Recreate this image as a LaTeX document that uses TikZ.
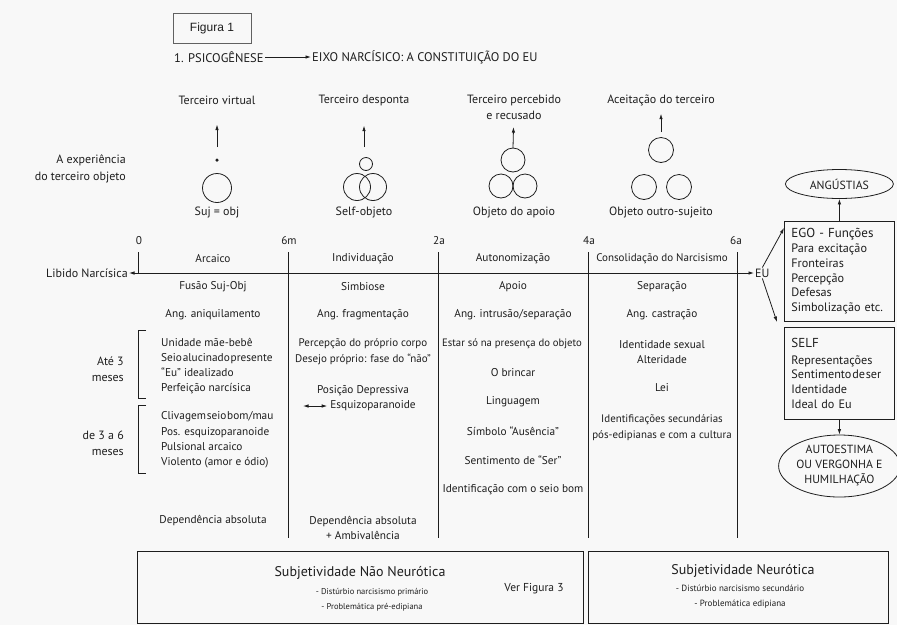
\documentclass[tikz,border=0pt]{standalone}
\usepackage{fontspec}
\setmainfont{PT Sans}
\newfontfamily\figfont{Liberation Sans}
\usepackage{tikz}
\usetikzlibrary{arrows.meta,positioning,shapes.geometric}
\definecolor{inkdark}{HTML}{1E1E1E}
\definecolor{pagegray}{HTML}{F8F8F8}
\tikzset{
  lbl/.style={
    font=\fontsize{11.3}{15}\selectfont,
    text=inkdark,
    inner sep=1pt,
    align=center
  },
  toplbl/.style={
    lbl,
    font=\fontsize{12}{16}\selectfont
  },
  smalllbl/.style={
    font=\fontsize{8.5}{15}\selectfont,
    text=inkdark,
    inner sep=1pt
  },
  bigtitle/.style={
    font=\fontsize{14}{16}\selectfont,
    text=inkdark,
    inner sep=1pt
  },
  ring/.style={
    circle,
    draw=inkdark,
    line width=0.8pt,
    inner sep=0pt
  },
  rule/.style={
    draw=inkdark,
    line width=0.8pt
  },
  arrow/.style={
    -{Latex[length=5.5pt,width=3.5pt]},
    draw=inkdark,
    line width=0.8pt
  },
  twoway/.style={
    {Latex[length=5.5pt,width=3.5pt]}-{Latex[length=5.5pt,width=3.5pt]},
    draw=inkdark,
    line width=0.8pt
  },
  sidebox/.style={
    rectangle,
    draw=inkdark,
    line width=0.8pt,
    text width=96pt,
    inner sep=7pt,
    align=left,
    anchor=north west,
    text=inkdark,
    font=\fontsize{12.2}{14.8}\selectfont
  },
  bubble/.style={
    ellipse,
    draw=inkdark,
    line width=0.8pt,
    inner sep=0pt,
    align=center,
    text=inkdark,
    font=\fontsize{11.8}{15}\selectfont
  },
  footbox/.style={
    rectangle,
    draw=inkdark,
    line width=0.8pt,
    minimum height=72pt
  }
}

\begin{document}
\begin{tikzpicture}[x=1pt,y=-1pt]
\fill[pagegray] (0,0) rectangle (897,625);
\useasboundingbox (0,0) rectangle (897,625);

% titulo
\node[draw=inkdark!70, line width=0.6pt, minimum width=78pt, minimum height=30pt,
  font=\figfont\fontsize{12}{14}\selectfont, text=inkdark] (fig) at (212,28) {Figura 1};
\node[lbl, font=\fontsize{12.5}{14}\selectfont, anchor=west] (psico) at (173,57) {1. PSICOGÊNESE};
\node[lbl, font=\fontsize{12.5}{14}\selectfont, anchor=west] (eixo) at (311,57) {EIXO NARCÍSICO: A CONSTITUIÇÃO DO EU};
\draw[arrow] (psico) -- (eixo);

% o terceiro
\node[toplbl] (virtual) at (217,100) {Terceiro virtual};
\node[toplbl] (desponta) at (364,100) {Terceiro desponta};
\node[toplbl] (percebido) at (514,107.5) {Terceiro percebido\\e recusado};
\node[toplbl] (aceita) at (661,100) {Aceitação do terceiro};
\node[toplbl, anchor=east, align=right, font=\fontsize{12}{17}\selectfont] (experiencia) at (127,169) {A experiência\\do terceiro objeto};

\node[circle, fill=inkdark, minimum size=3.5pt, inner sep=0pt] (dot) at (217,160) {};
\node[ring, minimum size=29pt] (suj) at (217,188) {};
\node[ring, minimum size=13pt] (selfTop) at (366,164) {};
\node[ring, minimum size=27pt] (selfL) at (357,187) {};
\node[ring, minimum size=27pt] (selfR) at (373,187) {};
\node[ring, minimum size=24pt] (apoioTop) at (513,160) {};
\node[ring, minimum size=24pt] (apoioL) at (501,186) {};
\node[ring, minimum size=24pt] (apoioR) at (525,186) {};
\node[ring, minimum size=25pt] (outroTop) at (661,150) {};
\node[ring, minimum size=25pt] (outroL) at (644,187) {};
\node[ring, minimum size=25pt] (outroR) at (679,187) {};

\coordinate (virtBase) at (217,147);
\coordinate (despBase) at (364,147);
\coordinate (percBase) at (513,148);
\coordinate (aceiBase) at (661,132);
\draw[arrow, shorten >=19pt] (virtBase) -- (virtual);
\draw[arrow, shorten >=19pt] (despBase) -- (desponta);
\draw[arrow, shorten >=6pt] (percBase) -- (percebido);
\draw[arrow, shorten >=7pt] (aceiBase) -- (aceita);

\node[toplbl] (sujLbl) at (217,212) {Suj = obj};
\node[toplbl] (selfLbl) at (364,212) {Self-objeto};
\node[toplbl] (apoioLbl) at (514,212) {Objeto do apoio};
\node[toplbl] (outroLbl) at (661,212) {Objeto outro-sujeito};

% eixo do tempo
\node[toplbl, anchor=east] (libido) at (129,273) {Libido Narcísica};
\node[toplbl, anchor=west] (eu) at (754,273) {EU};
\draw[twoway] (libido) -- (eu);
\draw[rule] (138,252) -- (138,273);
\foreach \x in {288,438,588,737}
  \draw[rule] (\x,252) -- (\x,538);
\foreach \x/\t in {139/0,289/6m,439/2a,589/4a,736/6a}
  \node[lbl] (t\t) at (\x,241) {\t};

\node[lbl] (arcaico) at (213,259) {Arcaico};
\node[lbl] (individ) at (363,259) {Individuação};
\node[lbl] (autonom) at (513,259) {Autonomização};
\node[lbl, font=\fontsize{11}{15}\selectfont] (consol) at (662,259) {Consolidação do Narcisismo};
\node[lbl] (fusao) at (213,287) {Fusão Suj-Obj};
\node[lbl] (simbiose) at (363,287) {Simbiose};
\node[lbl] (apoio) at (513,287) {Apoio};
\node[lbl] (separa) at (662,287) {Separação};
\node[lbl] (angAniq) at (213,315) {Ang. aniquilamento};
\node[lbl] (angFrag) at (363,315) {Ang. fragmentação};
\node[lbl] (angIntr) at (513,315) {Ang. intrusão/separação};
\node[lbl] (angCast) at (662,315) {Ang. castração};

% arcaico
\draw[rule] (146,330) -- (138,330) -- (138,398) -- (146,398);
\draw[rule] (146,405) -- (138,405) -- (138,473) -- (146,473);
\node[toplbl, anchor=east, align=right] (ate3) at (125,369) {Até 3\\meses};
\node[toplbl, anchor=east, align=right] (de3a6) at (125,443) {de 3 a 6\\meses};
\node[lbl, anchor=west, align=left, font=\fontsize{11.3}{15.3}\selectfont] (grupo1) at (160,366)
  {Unidade mãe-bebê\\{\spaceskip=0.8pt Seio alucinado presente}\\“Eu” idealizado\\Perfeição narcísica};
\node[lbl, anchor=west, align=left, font=\fontsize{11.3}{15.3}\selectfont] (grupo2) at (160,440)
  {{\spaceskip=0.8pt Clivagem seio bom/mau}\\Pos. esquizoparanoide\\Pulsional arcaico\\Violento (amor e ódio)};
\node[lbl] (depAbs) at (213,520) {Dependência absoluta};

% individuacao
\node[lbl, font=\fontsize{11}{16}\selectfont] (corpo) at (363,352) {Percepção do próprio corpo\\Desejo próprio: fase do “não”};
\node[lbl] (depressiva) at (363,391) {Posição Depressiva};
\node[lbl] (esquizo) at (373,406) {Esquizoparanoide};
\coordinate (dupla) at (303,406);
\draw[twoway, shorten >=2pt] (dupla) -- (esquizo);
\node[lbl] (depAmb) at (363,528) {Dependência absoluta\\+ Ambivalência};

% autonomizacao
\node[lbl, font=\fontsize{10.7}{15}\selectfont] (estarSo) at (512,344) {Estar só na presença do objeto};
\node[lbl] (brincar) at (513,373) {O brincar};
\node[lbl] (linguagem) at (513,402) {Linguagem};
\node[lbl] (simbolo) at (513,431) {Símbolo “Ausência”};
\node[lbl] (sentSer) at (513,460) {Sentimento de “Ser”};
\node[lbl] (seioBom) at (513,490) {Identificação com o seio bom};

% consolidacao
\node[lbl] (identSex) at (662,352) {Identidade sexual\\Alteridade};
\node[lbl] (lei) at (662,388) {Lei};
\node[lbl, font=\fontsize{10.9}{16}\selectfont] (secund) at (662,428) {Identificações secundárias\\pós-edipianas e com a cultura};

% EU
\node[sidebox, minimum height=95pt] (ego) at (784,221)
  {{\fontsize{13}{14.8}\selectfont EGO - Funções}\\Para excitação\\Fronteiras\\Percepção\\Defesas\\Simbolização etc.};
\node[sidebox, minimum height=92pt] (self) at (784,327)
  {{\fontsize{13}{14.8}\selectfont SELF}\\[2pt]Representações\\{\spaceskip=0.8pt Sentimento de ser}\\Identidade\\Ideal do Eu};
\node[bubble, minimum width=108pt, minimum height=29pt] (angustias) at (ego.north |- 0,184) {ANGÚSTIAS};
\node[bubble, minimum width=112pt, minimum height=62pt] (autoestima) at (self.south |- 0,466)
  {AUTOESTIMA\\OU VERGONHA E\\HUMILHAÇÃO};
\draw[arrow] (ego) -- (angustias);
\draw[arrow] (self) -- (autoestima);
\draw[arrow] (eu.north) -- ([yshift=-7pt]ego.north west);
\draw[arrow] (eu.south) -- ([shift={(-7pt,5pt)}]self.north west);

% subjetividade
\node[footbox, minimum width=446pt] (naoNeur) at (360,587) {};
\node[footbox, minimum width=300pt] (neur) at (738,587) {};
\node[bigtitle] (naoNeurTit) at (360,573) {Subjetividade Não Neurótica};
\node[smalllbl, align=center] (naoNeurTxt) at (372,599.5) {- Distúrbio narcisismo primário\\- Problemática pré-edipiana};
\node[lbl, font=\fontsize{11.5}{14}\selectfont] (verFig) at (534,589) {Ver Figura 3};
\node[bigtitle] (neurTit) at (743,571) {Subjetividade Neurótica};
\node[smalllbl, align=center, font=\fontsize{9}{15}\selectfont] (neurTxt) at (740,597) {- Distúrbio narcisismo secundário\\- Problemática edipiana};
\end{tikzpicture}
\end{document}
